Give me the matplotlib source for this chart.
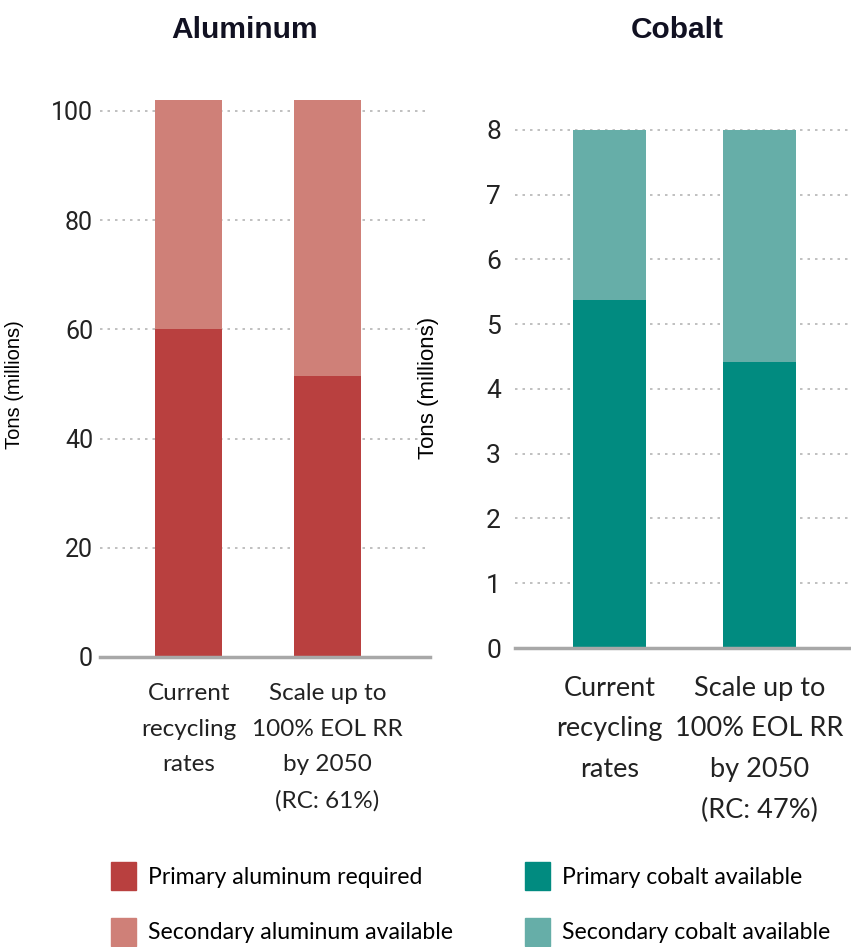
import matplotlib
matplotlib.use("Agg")
import matplotlib.pyplot as plt
from matplotlib.patches import Patch

# data
categories = ["Current\nrecycling\nrates", "Scale up to\n100% EOL RR\nby 2050\n(RC: 61%)"]
cobalt_categories = ["Current\nrecycling\nrates", "Scale up to\n100% EOL RR\nby 2050\n(RC: 47%)"]
al_primary = [60.0, 51.5]
al_total = [102.0, 102.0]
co_primary = [5.37, 4.42]
co_total = [8.0, 8.0]
al_ticks = [0, 20, 40, 60, 80, 100]
co_ticks = [0, 1, 2, 3, 4, 5, 6, 7, 8]

al_secondary = [t - p for t, p in zip(al_total, al_primary)]
co_secondary = [t - p for t, p in zip(co_total, co_primary)]

AL_DARK, AL_LIGHT = "#b9403f", "#cf8078"
CO_DARK, CO_LIGHT = "#018b80", "#66aea8"
NUM_FONT = ["Roboto", "DejaVu Sans"]
TXT_FONT = ["Lato", "DejaVu Sans"]
ARIAL = ["Liberation Sans", "DejaVu Sans"]

fig = plt.figure(figsize=(8.51, 9.47), dpi=100)


def style_axis(ax, ticks, ylim, xlim, tick_size, pad):
    ax.set_xlim(*xlim)
    ax.set_ylim(*ylim)
    ax.set_yticks(ticks)
    ax.yaxis.grid(True, linestyle=(0, (1.5, 3)), color="#b5b5b5", linewidth=1.2)
    ax.set_axisbelow(True)
    for side in ["top", "right", "left"]:
        ax.spines[side].set_visible(False)
    ax.spines["bottom"].set_color("#a8a8a8")
    ax.spines["bottom"].set_linewidth(2.5)
    ax.tick_params(axis="both", length=0)
    ax.tick_params(axis="y", pad=pad)
    for lab in ax.get_yticklabels():
        lab.set_fontfamily(NUM_FONT)
        lab.set_fontsize(tick_size)
        lab.set_color("#222222")


# Aluminum panel
ax1 = fig.add_axes([100 / 851, 290 / 947, 330 / 851, 568 / 947])
x = range(len(categories))
ax1.bar(x, al_primary, width=0.48, color=AL_DARK, zorder=2)
ax1.bar(x, al_secondary, bottom=al_primary, width=0.48, color=AL_LIGHT, zorder=2)
style_axis(ax1, al_ticks, (0, 104), (-0.64, 1.74), 18, 5)
ax1.set_xticks(list(x))
ax1.set_xticklabels(categories, fontsize=17.5, family=TXT_FONT, color="#222222", linespacing=1.85)
ax1.tick_params(axis="x", pad=19)
ax1.set_ylabel("Tons (millions)", fontsize=14.5, family=ARIAL)
ax1.yaxis.set_label_coords(-0.23, 0.48)
fig.text(245 / 851, 1 - 30 / 947, "Aluminum", ha="center", va="center",
         fontsize=21.5, fontweight="bold", family=ARIAL, color="#111122")

# Cobalt panel
ax2 = fig.add_axes([515 / 851, 299 / 947, 336 / 851, 531 / 947])
ax2.bar(x, co_primary, width=0.49, color=CO_DARK, zorder=2)
ax2.bar(x, co_secondary, bottom=co_primary, width=0.49, color=CO_LIGHT, zorder=2)
style_axis(ax2, co_ticks, (0, 8.2), (-0.63, 1.61), 19, 10)
ax2.set_xticks(list(x))
ax2.set_xticklabels(cobalt_categories, fontsize=19.5, family=TXT_FONT, color="#222222", linespacing=1.78)
ax2.tick_params(axis="x", pad=20)
ax2.set_ylabel("Tons (millions)", fontsize=16, family=ARIAL)
ax2.yaxis.set_label_coords(-0.225, 0.49)
fig.text(677 / 851, 1 - 30 / 947, "Cobalt", ha="center", va="center",
         fontsize=21.5, fontweight="bold", family=ARIAL, color="#111122")

# legends
leg_kw = dict(loc="upper left", frameon=False, borderpad=0, borderaxespad=0,
              handlelength=1.1, handleheight=1.5, handletextpad=0.5, labelspacing=1.2,
              prop={"family": TXT_FONT, "size": 16.6})
al_handles = [Patch(color=AL_DARK, label="Primary aluminum required"),
              Patch(color=AL_LIGHT, label="Secondary aluminum available")]
co_handles = [Patch(color=CO_DARK, label="Primary cobalt available"),
              Patch(color=CO_LIGHT, label="Secondary cobalt available")]
fig.legend(handles=al_handles, bbox_to_anchor=(111 / 851, 1 - 862 / 947), **leg_kw)
fig.legend(handles=co_handles, bbox_to_anchor=(525 / 851, 1 - 862 / 947), **leg_kw)

fig.savefig("out.png", dpi=100)
